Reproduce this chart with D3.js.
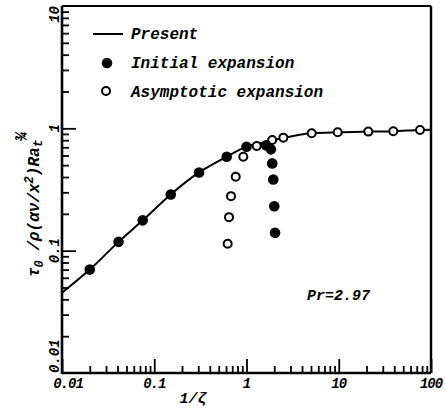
<!DOCTYPE html>
<html>
<head>
<meta charset="utf-8">
<script src="https://cdn.jsdelivr.net/npm/d3@7"></script>
<style>
  body { margin: 0; background: #fff; }
  text { font-family: "Liberation Mono", "DejaVu Sans Mono", monospace; font-style: italic; font-weight: bold; fill: #000; }
</style>
</head>
<body>
<div id="chart"></div>
<script>
// present solution (solid line)
var presentX = [0.01, 0.02, 0.041, 0.075, 0.151, 0.306, 0.61, 1.0, 1.6, 2.5, 5.1, 9.7, 21, 39, 76, 100];
var presentY = [0.0453, 0.070, 0.118, 0.177, 0.288, 0.436, 0.586, 0.708, 0.77, 0.835, 0.912, 0.929, 0.94, 0.947, 0.97, 0.975];

// initial expansion (filled circles)
var initialX = [0.02, 0.041, 0.075, 0.151, 0.306, 0.61, 1.0, 1.63, 1.84, 1.90, 1.95, 2.0, 2.04];
var initialY = [0.070, 0.118, 0.177, 0.288, 0.436, 0.586, 0.708, 0.726, 0.673, 0.517, 0.382, 0.231, 0.140];

// asymptotic expansion (open circles)
var asymX = [0.625, 0.646, 0.679, 0.764, 0.923, 1.29, 1.90, 2.51, 5.09, 9.74, 20.9, 39, 76];
var asymY = [0.114, 0.188, 0.279, 0.402, 0.586, 0.716, 0.802, 0.839, 0.912, 0.929, 0.940, 0.947, 0.970];

var xTicks = [0.01, 0.1, 1, 10, 100],
    xTickLabels = ["0.01", "0.1", "1", "10", "100"];
var yTicks = [0.01, 0.1, 1, 10],
    yTickLabels = ["0.01", "0.1", "1", "10"];

var width = 446, height = 413,
    margin = {top: 6, right: 15, bottom: 40, left: 62},
    w = width - margin.left - margin.right,
    h = height - margin.top - margin.bottom;

var svg = d3.select("#chart").append("svg")
    .attr("width", width)
    .attr("height", height);

var g = svg.append("g")
    .attr("transform", "translate(" + margin.left + "," + margin.top + ")");

var x = d3.scaleLog().domain([0.01, 100]).range([0, w]),
    y = d3.scaleLog().domain([0.01, 10]).range([h, 0]);

function minors(decades) {
  var out = [];
  decades.forEach(function(d) {
    for (var k = 2; k <= 9; k++) out.push(d * k);
  });
  return out;
}
var xMinor = minors([0.01, 0.1, 1, 10]),
    yMinor = minors([0.01, 0.1, 1]);

// inward ticks, no labels (labels are placed by hand below)
g.append("g")
    .attr("transform", "translate(0," + h + ")")
    .call(d3.axisBottom(x).tickValues(xMinor).tickSize(-7).tickSizeOuter(0).tickFormat(""));
g.append("g")
    .attr("transform", "translate(0," + h + ")")
    .call(d3.axisBottom(x).tickValues(xTicks).tickSize(-14).tickSizeOuter(0).tickFormat(""));
g.append("g")
    .call(d3.axisLeft(y).tickValues(yMinor).tickSize(-7).tickSizeOuter(0).tickFormat(""));
g.append("g")
    .call(d3.axisLeft(y).tickValues(yTicks.slice(1, 3)).tickSize(-14).tickSizeOuter(0).tickFormat(""));

g.selectAll(".domain").remove();
g.selectAll(".tick line").attr("stroke", "#000").attr("stroke-width", 1.8);

// frame
g.append("line").attr("x1", 0).attr("x2", w).attr("y1", h).attr("y2", h)
    .attr("stroke", "#000").attr("stroke-width", 2.6);
g.append("line").attr("x1", 0).attr("x2", 0).attr("y1", 0).attr("y2", h + 1)
    .attr("stroke", "#000").attr("stroke-width", 2.6);
g.append("line").attr("x1", 0).attr("x2", w).attr("y1", 0).attr("y2", 0)
    .attr("stroke", "#000").attr("stroke-width", 2);
g.append("line").attr("x1", w).attr("x2", w).attr("y1", 0).attr("y2", h)
    .attr("stroke", "#000").attr("stroke-width", 2.4);

// tick labels
g.selectAll(".xlab").data(xTicks).enter().append("text")
    .attr("class", "xlab")
    .attr("x", function(d, i) { return x(d) + (i === 0 ? 6 : 0); })
    .attr("y", h + 15)
    .attr("text-anchor", "middle")
    .style("font-size", "14px")
    .style("letter-spacing", "-1px")
    .text(function(d, i) { return xTickLabels[i]; });

g.selectAll(".ylab").data(yTicks).enter().append("text")
    .attr("class", "ylab")
    .attr("transform", function(d) { return "translate(-3," + y(d) + ") rotate(-90)"; })
    .attr("text-anchor", function(d, i) { return i === 0 ? "start" : (i === yTicks.length - 1 ? "end" : "middle"); })
    .style("font-size", "14px")
    .text(function(d, i) { return yTickLabels[i]; });

// axis titles
g.append("text")
    .attr("x", 131)
    .attr("y", h + 30)
    .attr("text-anchor", "middle")
    .style("font-size", "15px")
    .text("1/\u03b6");

var yt = g.append("text")
    .attr("transform", "translate(-23,271) rotate(-90)")
    .style("font-size", "16px");
yt.append("tspan").text("\u03c4");
yt.append("tspan").attr("dy", 4).style("font-size", "12px").text("0");
yt.append("tspan").attr("dy", -4).text(" /\u03c1(\u03b1\u03bd/x");
yt.append("tspan").attr("dy", -6).style("font-size", "12px").text("2");
yt.append("tspan").attr("dy", 6).text(")Ra");
yt.append("tspan").attr("dy", 3).style("font-size", "13px").text("t");
yt.append("tspan").attr("dy", -15).attr("dx", -2).style("font-size", "16px").text("\u00be");

// present line
var line = d3.line()
    .curve(d3.curveMonotoneX)
    .x(function(d) { return x(d[0]); })
    .y(function(d) { return y(d[1]); });

g.append("path")
    .datum(d3.zip(presentX, presentY))
    .attr("d", line)
    .attr("fill", "none")
    .attr("stroke", "#000")
    .attr("stroke-width", 2);

// markers
g.selectAll(".asym").data(d3.zip(asymX, asymY)).enter().append("circle")
    .attr("class", "asym")
    .attr("cx", function(d) { return x(d[0]); })
    .attr("cy", function(d) { return y(d[1]); })
    .attr("r", 4)
    .attr("fill", "#fff")
    .attr("stroke", "#000")
    .attr("stroke-width", 2);

g.selectAll(".init").data(d3.zip(initialX, initialY)).enter().append("circle")
    .attr("class", "init")
    .attr("cx", function(d) { return x(d[0]); })
    .attr("cy", function(d) { return y(d[1]); })
    .attr("r", 5.3)
    .attr("fill", "#000");

// legend
var legend = svg.append("g");
legend.append("line").attr("x1", 93).attr("x2", 123).attr("y1", 34).attr("y2", 34)
    .attr("stroke", "#000").attr("stroke-width", 2);
legend.append("circle").attr("cx", 107).attr("cy", 63).attr("r", 5.3).attr("fill", "#000");
legend.append("circle").attr("cx", 106).attr("cy", 91).attr("r", 4)
    .attr("fill", "#fff").attr("stroke", "#000").attr("stroke-width", 2);
legend.selectAll("text")
    .data(["Present", "Initial expansion", "Asymptotic expansion"]).enter()
    .append("text")
    .attr("x", 131)
    .attr("y", function(d, i) { return 39 + i * 29; })
    .style("font-size", "16px")
    .text(function(d) { return d; });

svg.append("text")
    .attr("x", 307)
    .attr("y", 300)
    .style("font-size", "15px")
    .text("Pr=2.97");
</script>
</body>
</html>
